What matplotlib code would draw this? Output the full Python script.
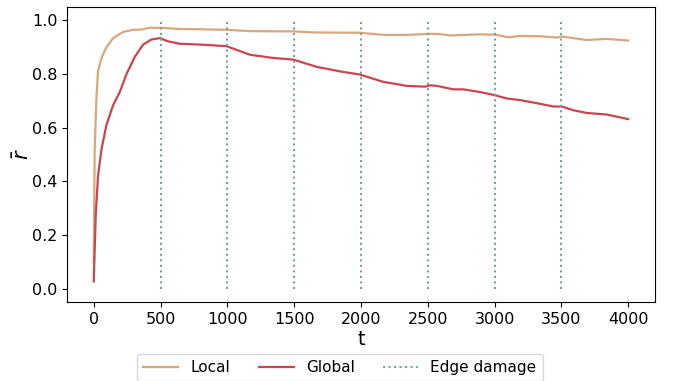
import numpy as np
import matplotlib
matplotlib.use("Agg")
import matplotlib.pyplot as plt

# values
local_t = [0, 7, 20, 32, 58, 95, 145, 220, 294, 357, 420, 507, 644, 794, 994, 1169,
           1493, 1668, 1993, 2167, 2342, 2442, 2504, 2592, 2666, 2891, 3004, 3104, 3191,
           3341, 3466, 3503, 3690, 3840, 4000]
local_r = [0.10, 0.52, 0.71, 0.81, 0.86, 0.90, 0.934, 0.957, 0.965, 0.966, 0.973, 0.972,
           0.968, 0.967, 0.965, 0.960, 0.959, 0.955, 0.954, 0.946, 0.946, 0.948, 0.950,
           0.949, 0.944, 0.948, 0.947, 0.937, 0.942, 0.941, 0.936, 0.940, 0.927, 0.931,
           0.925]

global_t = [0, 15, 32, 58, 95, 145, 195, 245, 307, 370, 432, 494, 557, 644, 794, 994,
            1169, 1343, 1493, 1668, 1843, 1993, 2167, 2342, 2479, 2517, 2566, 2691, 2766,
            2891, 3004, 3091, 3191, 3341, 3441, 3503, 3590, 3690, 3840, 4000]
global_r = [0.027, 0.275, 0.42, 0.52, 0.61, 0.684, 0.733, 0.80, 0.864, 0.91, 0.929, 0.934,
            0.922, 0.913, 0.91, 0.904, 0.872, 0.86, 0.854, 0.827, 0.81, 0.798, 0.771,
            0.756, 0.753, 0.758, 0.756, 0.743, 0.743, 0.733, 0.721, 0.709, 0.703, 0.689,
            0.679, 0.679, 0.665, 0.655, 0.649, 0.632]

damage_t = [500, 1000, 1500, 2000, 2500, 3000, 3500]

fig = plt.figure(figsize=(6.73, 3.81), dpi=100)
ax = fig.add_axes([0.0996, 0.2073, 0.8734, 0.7743])

ax.plot(local_t, local_r, color="#d8a87c", lw=1.6, label="Local")
ax.plot(global_t, global_r, color="#c8474f", lw=1.6, label="Global")
ax.vlines(damage_t, 0, 1, colors="#72a3a0", linestyles=":", lw=1.5, label="Edge damage")

ax.set_xlim(-200, 4200)
ax.set_ylim(-0.05, 1.05)
ax.set_xticks(np.arange(0, 4001, 500))
ax.set_yticks(np.arange(0, 1.01, 0.2))
ax.tick_params(labelsize=11.5)
ax.set_xlabel("t", fontsize=14, labelpad=2)
ax.set_ylabel(r"$\bar{r}$", fontsize=15, labelpad=-1)

fig.legend(loc="lower center", bbox_to_anchor=(0.505, -0.02), ncol=3, fontsize=11,
           frameon=True, handlelength=2.3, columnspacing=1.85)

fig.savefig("out.png", dpi=100)
